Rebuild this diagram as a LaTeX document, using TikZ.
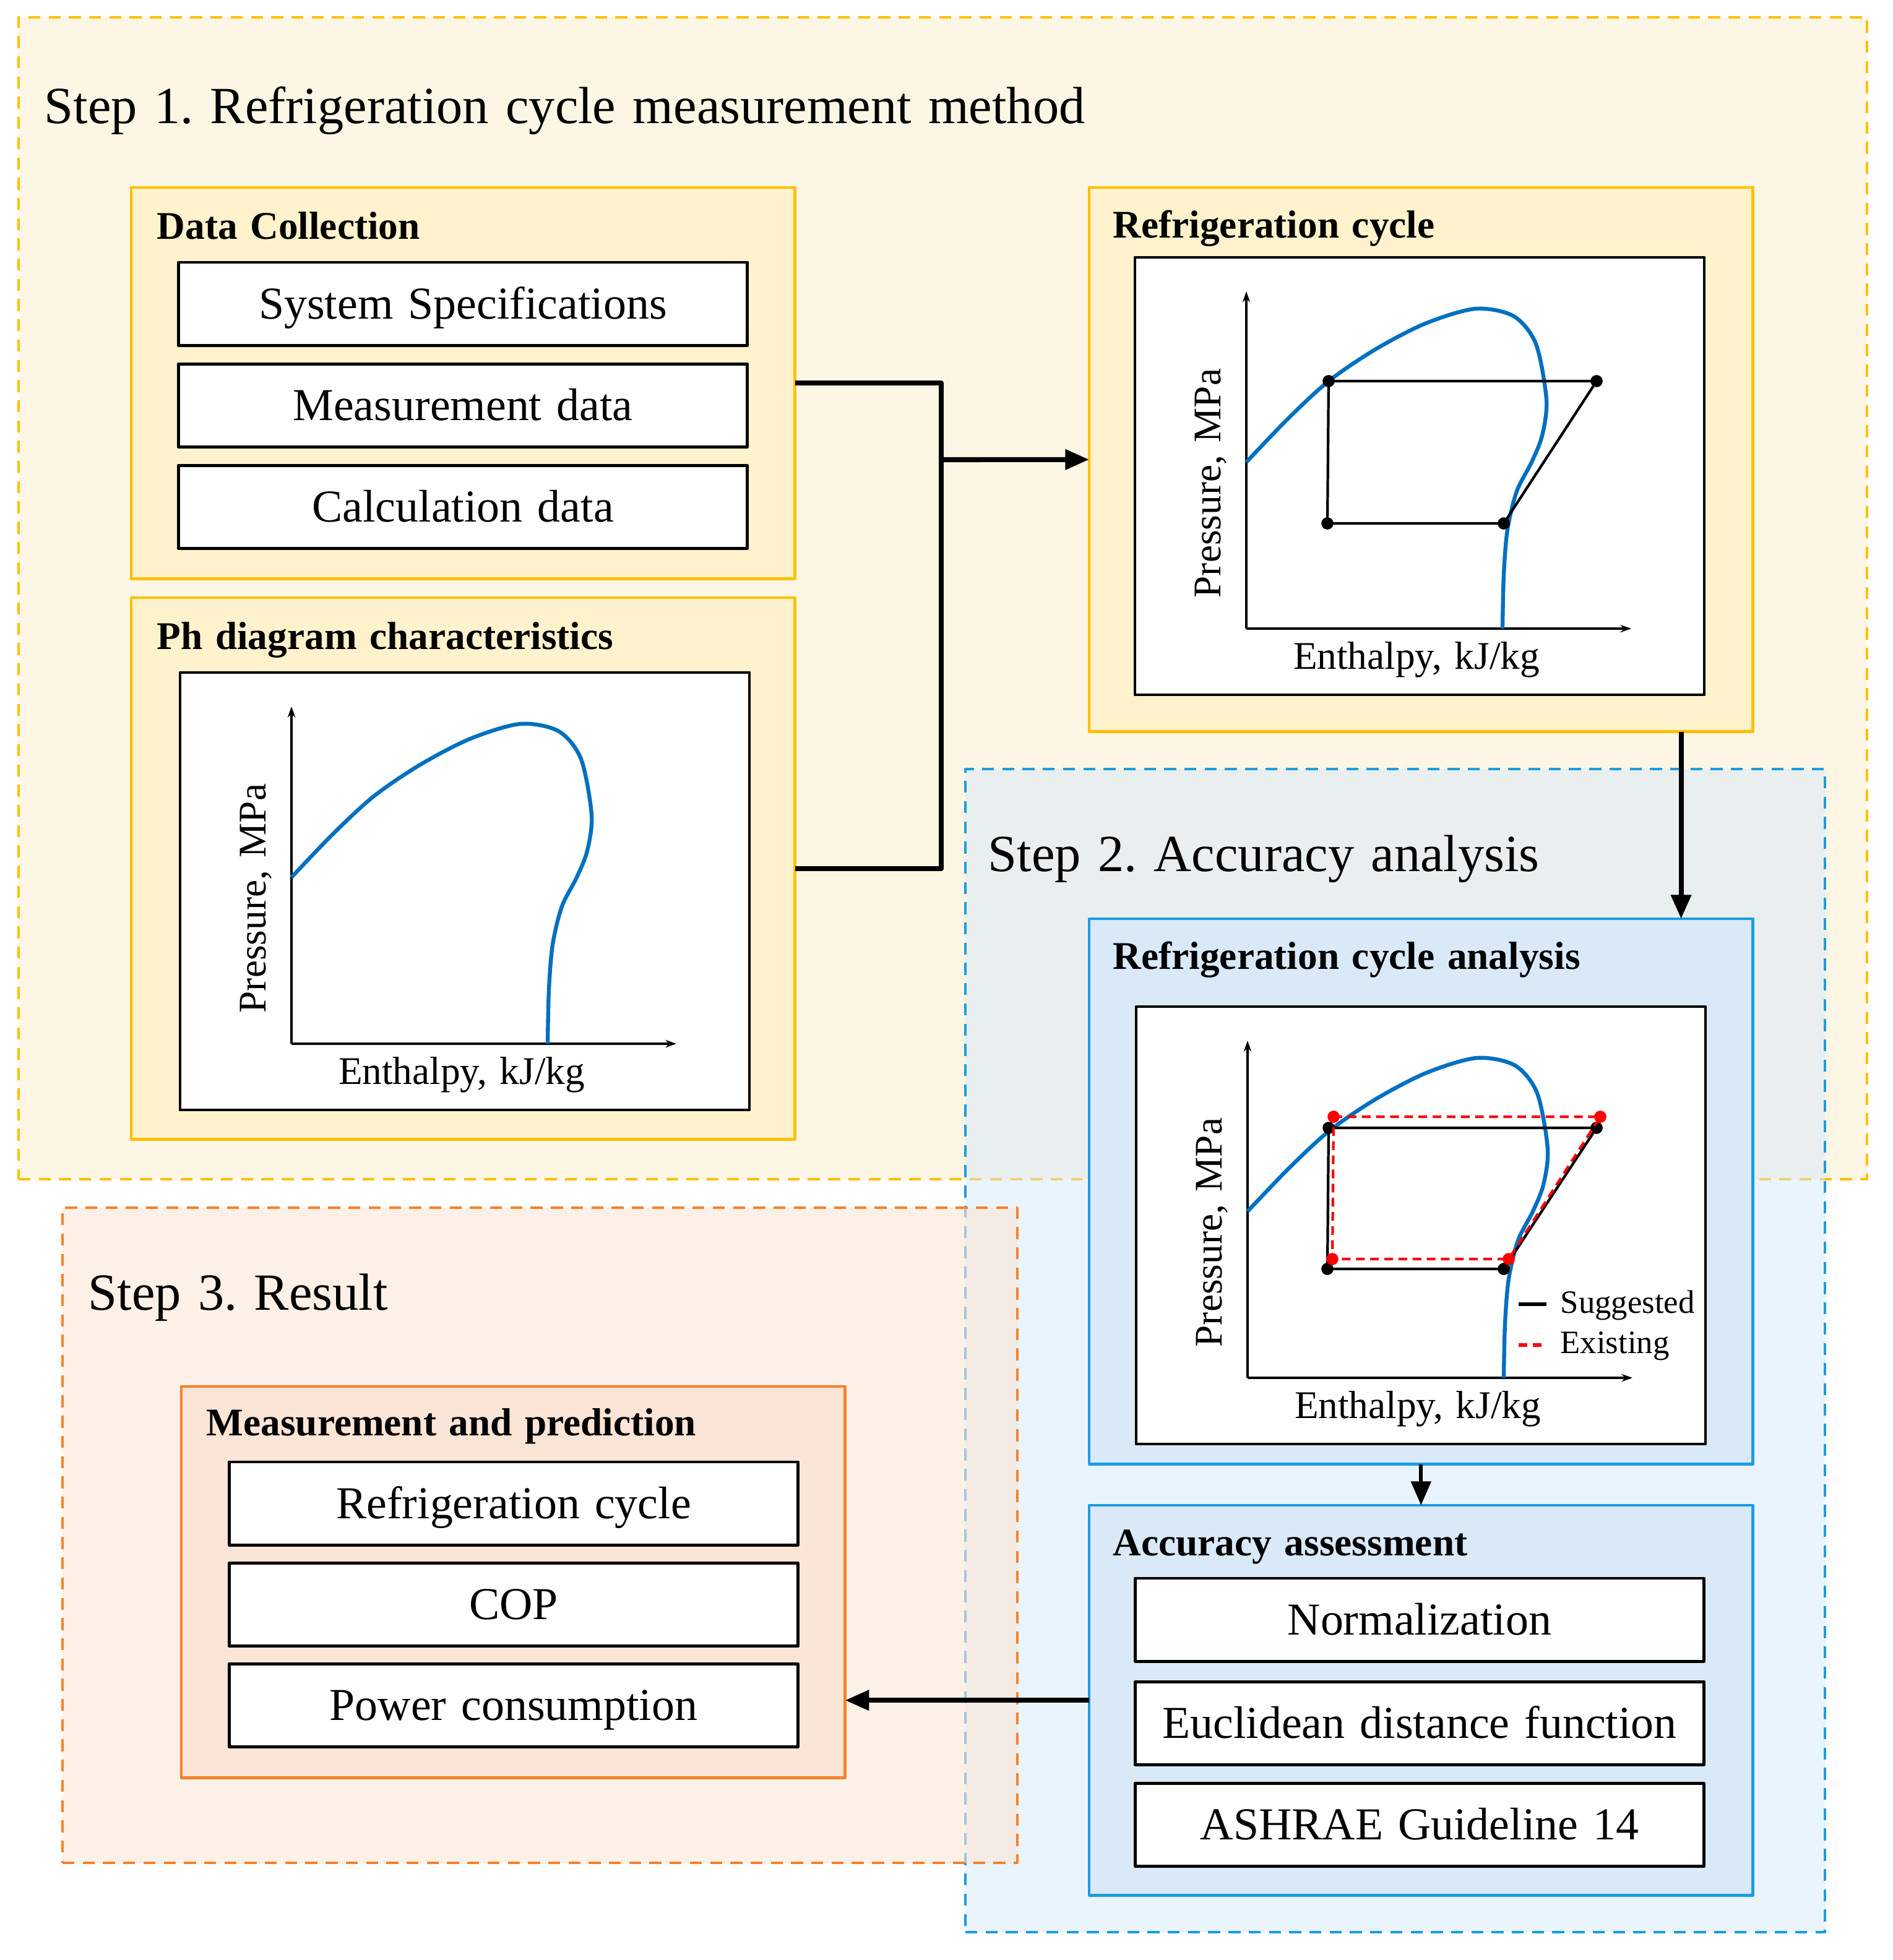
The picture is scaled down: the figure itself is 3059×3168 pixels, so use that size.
\documentclass[tikz,border=0pt]{standalone}
\usepackage{fontspec}
\setmainfont{Liberation Serif}[WordSpace=1.3]
\frenchspacing
\usetikzlibrary{arrows.meta,positioning}

\definecolor{goldline}{HTML}{FFC000}
\definecolor{goldfill}{HTML}{FFF2CC}
\definecolor{goldbg}{HTML}{FEF6E4}
\definecolor{skyline}{HTML}{1B9DE2}
\definecolor{skyfill}{HTML}{DAE9F7}
\definecolor{skybg}{HTML}{D5E9F9}
\definecolor{peachline}{HTML}{F5822A}
\definecolor{peachfill}{HTML}{FBE5D6}
\definecolor{peachbg}{HTML}{FCE6D7}
\definecolor{domeblue}{HTML}{0070C0}

\tikzset{
  stepframe/.style={draw, dashed, dash pattern=on 5.5pt off 3.8pt, line width=1.1pt, inner sep=0pt, outer sep=0pt, anchor=north west},
  steptitle/.style={anchor=base west, inner sep=0pt, font=\fontsize{24}{28}\selectfont},
  groupbox/.style={draw, line width=1.3pt, inner sep=0pt, outer sep=0pt, anchor=north west, minimum width=10.72cm},
  grouptitle/.style={anchor=base west, inner sep=0pt, font=\fontsize{18}{21}\selectfont\bfseries},
  itembox/.style={draw, fill=white, line width=1.4pt, minimum width=9.19cm, minimum height=1.34cm, inner sep=0pt, outer sep=0pt, text height=14pt, text depth=0pt, font=\fontsize{21}{24}\selectfont},
  joinline/.style={line width=2.3pt},
  flowarrow/.style={line width=2.3pt, -{Triangle[length=11pt,width=9pt]}},
  cycleline/.style={line width=1.2pt},
  oldcycle/.style={red, line width=1.2pt, dash pattern=on 4pt off 2.5pt},
  phchart/.pic={
    \draw[line width=1.4pt, fill=white] (-180,-600) rectangle (740,107);
    \draw[line width=1pt, -{Stealth[length=5pt,width=3.5pt]}] (0,0) -- (0,-545);
    \draw[line width=1pt, -{Stealth[length=5pt,width=3.5pt]}] (0,0) -- (622,0);
    \draw[domeblue, line width=1.8pt] plot[smooth] coordinates {(0,-269) (67,-339) (133,-400) (208,-451) (289,-493) (370,-517) (432,-505) (468,-460) (485,-370) (478,-312) (461,-269) (437,-222) (422,-160) (416,-87) (414,0)};
    \node[rotate=90, font=\fontsize{18}{21}\selectfont] at (-57,-235) {Pressure, MPa};
    \node[font=\fontsize{18}{21}\selectfont] at (275,50) {Enthalpy, kJ/kg};
  }
}

\begin{document}
\begin{tikzpicture}[x=0.01cm, y=-0.01cm, line join=round]
\useasboundingbox (0,0) rectangle (3059,3168);

% Step 1
\node[stepframe, draw=goldline, fill=goldbg, minimum width=29.85cm, minimum height=18.77cm] (st1) at (30,28) {};
\node[steptitle] (st1t) at (71,199) {Step 1. Refrigeration cycle measurement method};

\node[groupbox, draw=goldline, fill=goldfill, minimum height=6.32cm] (dc) at (212,303) {};
\node[grouptitle] (dct) at ([xshift=0.41cm,yshift=-0.83cm]dc.north west) {Data Collection};
\node[itembox] (spec) at (748,491) {System Specifications};
\node[itembox, below=0.3cm of spec] (meas) {Measurement data};
\node[itembox, below=0.3cm of meas] (calc) {Calculation data};

\node[groupbox, draw=goldline, fill=goldfill, minimum height=8.75cm] (ph) at (212,966) {};
\node[grouptitle] (pht) at ([xshift=0.41cm,yshift=-0.83cm]ph.north west) {Ph diagram characteristics};
\coordinate (o1) at (471,1687);
\path (o1) pic{phchart};

\node[groupbox, draw=goldline, fill=goldfill, minimum height=8.79cm] (rc) at (1760,303) {};
\node[grouptitle] (rct) at ([xshift=0.38cm,yshift=-0.81cm]rc.north west) {Refrigeration cycle};
\coordinate (o2) at (2014,1016);
\path (o2) pic{phchart};
\begin{scope}[shift={(o2)}]
  \draw[cycleline] (133,-400) -- (566,-400) -- (416,-170) -- (131,-170) -- cycle;
  \foreach \p in {(133,-400),(566,-400),(416,-170),(131,-170)} \fill \p circle (2.8pt);
\end{scope}

\coordinate (jn) at (1521,743);
\draw[joinline] (dc.east) -| (jn) |- (ph.east);
\draw[flowarrow] (jn) -- (rc.west);

% Step 2
\node[stepframe, draw=skyline, fill=skybg, fill opacity=0.5, minimum width=13.88cm, minimum height=18.79cm] (st2) at (1560,1243) {};
\node[steptitle] (st2t) at (1596,1408) {Step 2. Accuracy analysis};

\node[groupbox, draw=skyline, fill=skyfill, minimum height=8.81cm] (rca) at (1760,1485) {};
\node[grouptitle] (rcat) at ([xshift=0.38cm,yshift=-0.81cm]rca.north west) {Refrigeration cycle analysis};
\coordinate (o3) at (2016,2227);
\path (o3) pic{phchart};
\begin{scope}[shift={(o3)}]
  \draw[cycleline] (131,-404) -- (564,-404) -- (414,-176) -- (129,-176) -- cycle;
  \foreach \p in {(131,-404),(564,-404),(414,-176),(129,-176)} \fill \p circle (2.8pt);
  \draw[oldcycle] (139,-422) -- (570,-422) -- (422,-192) -- (137,-192) -- cycle;
  \foreach \p in {(139,-422),(570,-422),(422,-192),(137,-192)} \fill[red] \p circle (2.8pt);
  \draw[line width=1.6pt] (438,-119) -- (483,-119);
  \draw[oldcycle, line width=1.6pt] (438,-53) -- (483,-53);
  \node[anchor=west, inner sep=0pt, font=\fontsize{15}{18}\selectfont] (lgs) at (505,-117) {Suggested};
  \node[anchor=west, inner sep=0pt, font=\fontsize{15}{18}\selectfont] (lge) at (505,-51) {Existing};
\end{scope}

\node[groupbox, draw=skyline, fill=skyfill, minimum height=6.30cm] (aa) at (1760,2433) {};
\node[grouptitle] (aat) at ([xshift=0.38cm,yshift=-0.81cm]aa.north west) {Accuracy assessment};
\node[itembox] (norm) at (2294,2618) {Normalization};
\node[itembox, below=0.33cm of norm] (eucl) {Euclidean distance function};
\node[itembox, below=0.3cm of eucl] (ashrae) {ASHRAE Guideline 14};

% Step 3
\node[stepframe, draw=peachline, fill=peachbg, fill opacity=0.6, minimum width=15.42cm, minimum height=10.58cm] (st3) at (101,1952) {};
\node[steptitle] (st3t) at (142,2117) {Step 3. Result};

\node[groupbox, draw=peachline, fill=peachfill, minimum height=6.32cm] (mp) at (293,2241) {};
\node[grouptitle] (mpt) at ([xshift=0.40cm,yshift=-0.79cm]mp.north west) {Measurement and prediction};
\node[itembox] (rcyc) at (830,2430) {Refrigeration cycle};
\node[itembox, below=0.29cm of rcyc] (cop) {COP};
\node[itembox, below=0.29cm of cop] (power) {Power consumption};

% connectors between steps
\draw[flowarrow] ([xshift=4.2cm]rc.south) -- ([xshift=4.2cm]rca.north);
\draw[flowarrow, line width=1.8pt] (rca.south) -- (aa.north);
\draw[flowarrow] (aa.west) -- (aa.west -| mp.east);
\end{tikzpicture}
\end{document}
